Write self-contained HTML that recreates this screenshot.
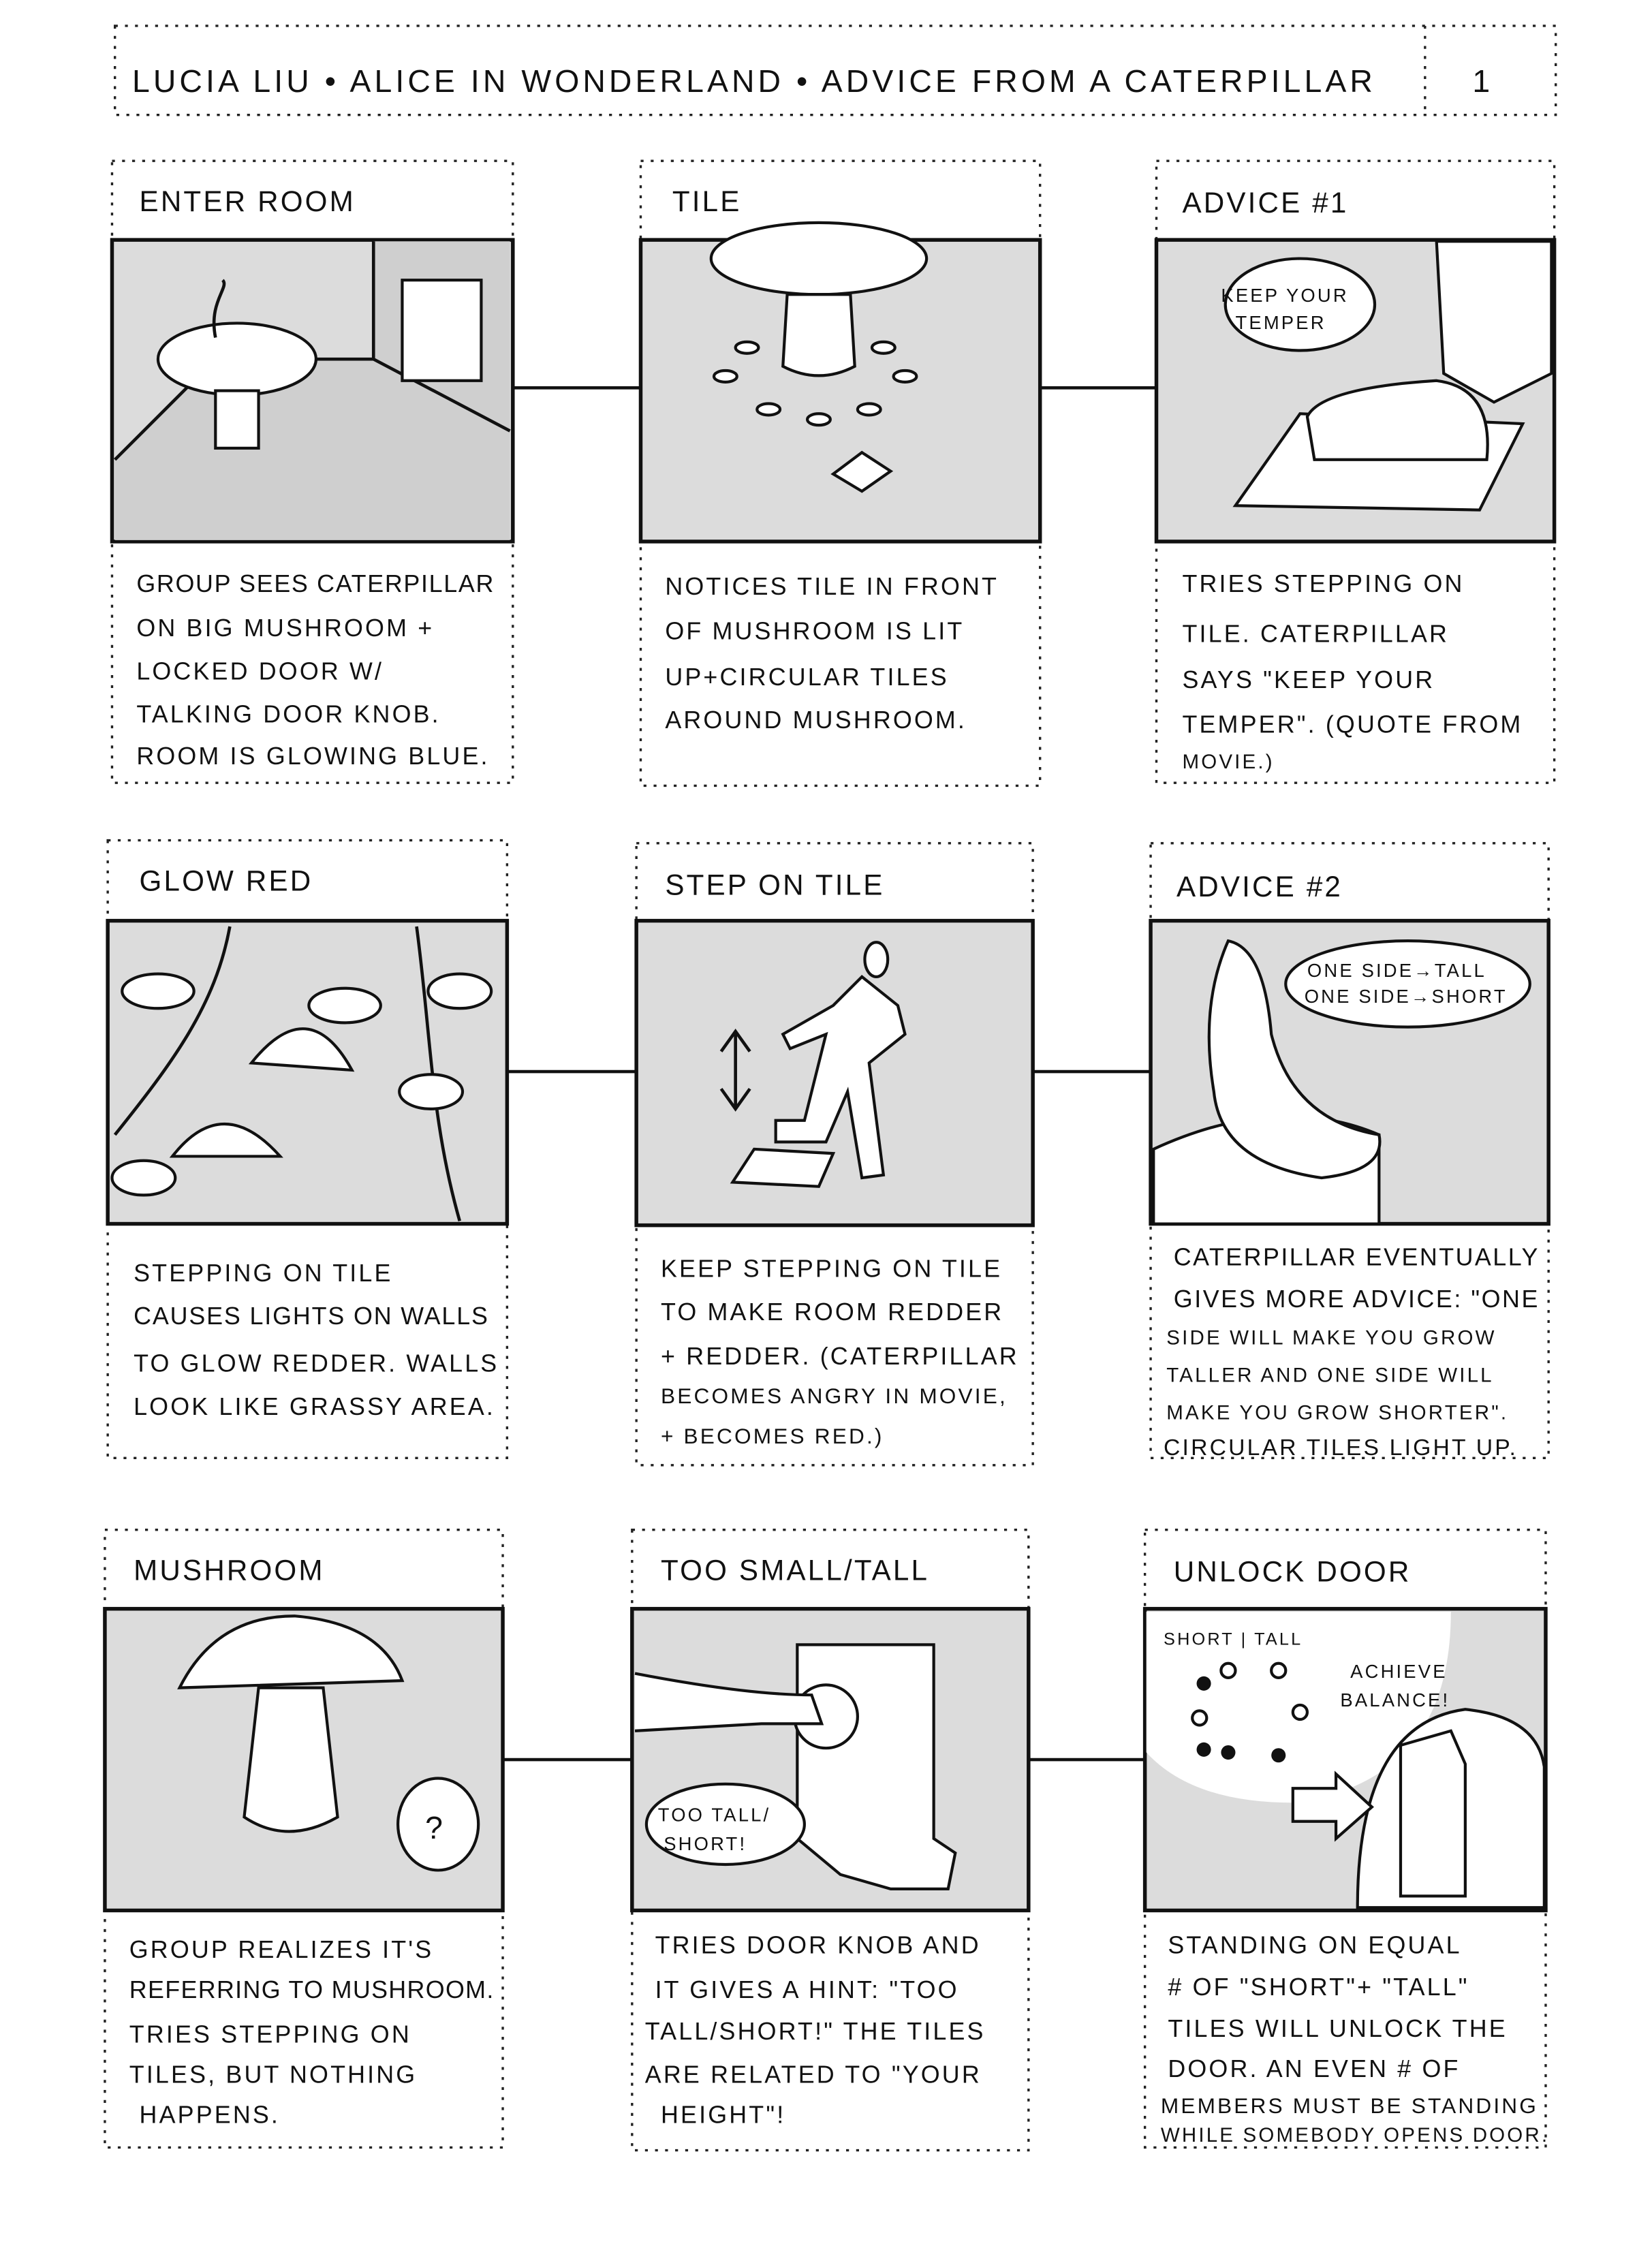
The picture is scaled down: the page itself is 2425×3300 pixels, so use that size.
<!DOCTYPE html>
<html><head><meta charset="utf-8"><style>
html,body{margin:0;padding:0;background:#fff}
svg{display:block}
text{font-family:"Liberation Sans",sans-serif;fill:#111;letter-spacing:1.5px}
.t{font-size:20px}
.d{font-size:17px}
.h{font-size:22px}
.dot{fill:none;stroke:#222;stroke-width:1.6;stroke-dasharray:2 5}
.img{fill:#dcdcdc;stroke:#111;stroke-width:2.6}
.ln{stroke:#111;stroke-width:2.2;fill:none}
.w{fill:#fff;stroke:#111;stroke-width:2}
</style></head><body>
<svg width="2425" height="3300" viewBox="0 0 1150 1565" preserveAspectRatio="none" xmlns="http://www.w3.org/2000/svg">
<rect x="0" y="0" width="1150" height="1565" fill="#fff"/>
<rect class="dot" x="80" y="18" width="1003" height="62"/>
<line class="dot" x1="992" y1="18" x2="992" y2="80"/>
<text class="h" x="92" y="64" textLength="865">LUCIA LIU • ALICE IN WONDERLAND • ADVICE FROM A CATERPILLAR</text>
<text class="h" x="1025" y="64">1</text>

<line class="ln" x1="357" y1="270" x2="446" y2="270"/><line class="ln" x1="724" y1="270" x2="805" y2="270"/>
<line class="ln" x1="353" y1="746" x2="443" y2="746"/><line class="ln" x1="719" y1="746" x2="801" y2="746"/>
<line class="ln" x1="350" y1="1225" x2="440" y2="1225"/><line class="ln" x1="716" y1="1225" x2="797" y2="1225"/>

<rect class="dot" x="78" y="112" width="279" height="433"/>
<text class="t" x="97" y="147">ENTER ROOM</text>
<rect class="img" x="78" y="167" width="279" height="210"/>
<polygon points="80,320 150,250 260,250 260,168 355,168 355,376 80,376" fill="#cfcfcf"/>
<polyline class="ln" points="80,320 150,250 260,250 355,300"/><line class="ln" x1="260" y1="168" x2="260" y2="250"/>
<rect class="w" x="280" y="195" width="55" height="70"/>
<ellipse class="w" cx="165" cy="250" rx="55" ry="25"/><rect class="w" x="150" y="272" width="30" height="40"/>
<path class="ln" d="M150,235 C145,210 160,200 155,195"/>
<text class="d" x="95" y="412" textLength="250">GROUP SEES CATERPILLAR</text>
<text class="d" x="95" y="443">ON BIG MUSHROOM +</text>
<text class="d" x="95" y="473">LOCKED DOOR W/</text>
<text class="d" x="95" y="503">TALKING DOOR KNOB.</text>
<text class="d" x="95" y="532">ROOM IS GLOWING BLUE.</text>

<rect class="dot" x="446" y="112" width="278" height="435"/>
<text class="t" x="468" y="147">TILE</text>
<rect class="img" x="446" y="167" width="278" height="210"/>
<ellipse class="w" cx="570" cy="180" rx="75" ry="25"/><path class="w" d="M548,205 L545,255 Q570,268 595,255 L592,205Z"/>
<g class="w"><ellipse cx="520" cy="242" rx="8" ry="4"/><ellipse cx="505" cy="262" rx="8" ry="4"/><ellipse cx="535" cy="285" rx="8" ry="4"/><ellipse cx="570" cy="292" rx="8" ry="4"/><ellipse cx="605" cy="285" rx="8" ry="4"/><ellipse cx="630" cy="262" rx="8" ry="4"/><ellipse cx="615" cy="242" rx="8" ry="4"/></g>
<polygon class="w" points="580,330 600,315 620,328 600,342"/>
<text class="d" x="463" y="414">NOTICES TILE IN FRONT</text>
<text class="d" x="463" y="445">OF MUSHROOM IS LIT</text>
<text class="d" x="463" y="477">UP+CIRCULAR TILES</text>
<text class="d" x="463" y="507">AROUND MUSHROOM.</text>

<rect class="dot" x="805" y="112" width="277" height="433"/>
<text class="t" x="823" y="148">ADVICE #1</text>
<rect class="img" x="805" y="167" width="277" height="210"/>
<polygon class="w" points="860,352 905,288 1060,295 1030,355"/>
<path class="w" d="M1000,168 L1080,168 L1080,260 L1040,280 L1005,260Z"/>
<path class="w" d="M910,290 Q920,270 1000,265 Q1040,270 1035,320 L915,320Z"/>
<ellipse class="w" cx="905" cy="212" rx="52" ry="32"/>
<text class="d" x="850" y="210" style="font-size:13px">KEEP YOUR</text><text class="d" x="860" y="229" style="font-size:13px">TEMPER</text>
<text class="d" x="823" y="412">TRIES STEPPING ON</text>
<text class="d" x="823" y="447">TILE. CATERPILLAR</text>
<text class="d" x="823" y="479">SAYS "KEEP YOUR</text>
<text class="d" x="823" y="510">TEMPER". (QUOTE FROM</text>
<text class="d" x="823" y="535" style="font-size:14px">MOVIE.)</text>

<rect class="dot" x="75" y="585" width="278" height="430"/>
<text class="t" x="97" y="620">GLOW RED</text>
<rect class="img" x="75" y="641" width="278" height="211"/>
<path class="ln" d="M80,790 C120,740 150,700 160,645 M320,850 C300,780 300,720 290,645"/>
<g class="w"><ellipse cx="110" cy="690" rx="25" ry="12"/><ellipse cx="240" cy="700" rx="25" ry="12"/><ellipse cx="320" cy="690" rx="22" ry="12"/><ellipse cx="300" cy="760" rx="22" ry="12"/><ellipse cx="100" cy="820" rx="22" ry="12"/></g>
<path class="w" d="M175,740 Q215,690 245,745Z"/><path class="w" d="M120,805 Q155,760 195,805Z"/>
<text class="d" x="93" y="892">STEPPING ON TILE</text>
<text class="d" x="93" y="922" textLength="248">CAUSES LIGHTS ON WALLS</text>
<text class="d" x="93" y="955">TO GLOW REDDER. WALLS</text>
<text class="d" x="93" y="985">LOOK LIKE GRASSY AREA.</text>

<rect class="dot" x="443" y="587" width="276" height="433"/>
<text class="t" x="463" y="623">STEP ON TILE</text>
<rect class="img" x="443" y="641" width="276" height="212"/>
<path class="w" d="M600,680 L580,700 L545,720 L550,730 L575,720 L560,780 L540,780 L540,795 L575,795 L590,760 L600,820 L615,818 L605,740 L630,720 L625,700Z"/>
<ellipse class="w" cx="610" cy="668" rx="8" ry="12"/>
<polygon class="w" points="510,823 525,800 580,803 570,826"/>
<path class="ln" d="M512,720 L512,770 M502,732 L512,718 L522,732 M502,758 L512,772 L522,758"/>
<text class="d" x="460" y="889">KEEP STEPPING ON TILE</text>
<text class="d" x="460" y="919">TO MAKE ROOM REDDER</text>
<text class="d" x="460" y="950">+ REDDER. (CATERPILLAR</text>
<text class="d" x="460" y="977" style="font-size:15px">BECOMES ANGRY IN MOVIE,</text>
<text class="d" x="460" y="1005" style="font-size:15px">+ BECOMES RED.)</text>

<rect class="dot" x="801" y="587" width="277" height="428"/>
<text class="t" x="819" y="624">ADVICE #2</text>
<rect class="img" x="801" y="641" width="277" height="211"/>
<path class="w" d="M803,800 Q890,760 960,790 L960,852 L803,852Z"/>
<path class="w" d="M855,655 Q880,660 885,720 Q900,780 960,790 Q965,815 920,820 Q850,810 845,760 Q835,700 855,655Z"/>
<ellipse class="w" cx="980" cy="685" rx="85" ry="30"/>
<text class="d" x="910" y="680" style="font-size:13px">ONE SIDE→TALL</text><text class="d" x="908" y="698" style="font-size:13px">ONE SIDE→SHORT</text>
<text class="d" x="817" y="881" textLength="255">CATERPILLAR EVENTUALLY</text>
<text class="d" x="817" y="910" textLength="255">GIVES MORE ADVICE: "ONE</text>
<text class="d" x="812" y="936" style="font-size:14px">SIDE WILL MAKE YOU GROW</text>
<text class="d" x="812" y="962" style="font-size:14px">TALLER AND ONE SIDE WILL</text>
<text class="d" x="812" y="988" style="font-size:14px">MAKE YOU GROW SHORTER".</text>
<text class="d" x="810" y="1013" style="font-size:16px">CIRCULAR TILES LIGHT UP.</text>

<rect class="dot" x="73" y="1065" width="277" height="430"/>
<text class="t" x="93" y="1100">MUSHROOM</text>
<rect class="img" x="73" y="1120" width="277" height="210"/>
<path class="w" d="M125,1175 Q150,1125 205,1125 Q265,1130 280,1170Z"/>
<path class="w" d="M180,1175 L170,1265 Q200,1285 235,1265 L225,1175Z"/>
<ellipse class="w" cx="305" cy="1270" rx="28" ry="32"/>
<text class="h" x="296" y="1280">?</text>
<text class="d" x="90" y="1363">GROUP REALIZES IT'S</text>
<text class="d" x="90" y="1391" textLength="255">REFERRING TO MUSHROOM.</text>
<text class="d" x="90" y="1422">TRIES STEPPING ON</text>
<text class="d" x="90" y="1450">TILES, BUT NOTHING</text>
<text class="d" x="97" y="1478">HAPPENS.</text>

<rect class="dot" x="440" y="1065" width="276" height="432"/>
<text class="t" x="460" y="1100">TOO SMALL/TALL</text>
<rect class="img" x="440" y="1120" width="276" height="210"/>
<path class="w" d="M555,1145 L650,1145 L650,1280 L665,1290 L660,1315 L620,1315 L585,1305 L555,1280Z"/>
<circle class="w" cx="575" cy="1195" r="22"/>
<path class="w" d="M442,1165 Q520,1180 565,1180 L572,1200 L530,1200 L442,1205"/>
<ellipse class="w" cx="505" cy="1270" rx="55" ry="28"/>
<text class="d" x="458" y="1268" style="font-size:13px">TOO TALL/</text><text class="d" x="462" y="1288" style="font-size:13px">SHORT!</text>
<text class="d" x="456" y="1360">TRIES DOOR KNOB AND</text>
<text class="d" x="456" y="1391">IT GIVES A HINT: "TOO</text>
<text class="d" x="449" y="1420">TALL/SHORT!" THE TILES</text>
<text class="d" x="449" y="1450">ARE RELATED TO "YOUR</text>
<text class="d" x="460" y="1478">HEIGHT"!</text>

<rect class="dot" x="797" y="1065" width="279" height="430"/>
<text class="t" x="817" y="1101">UNLOCK DOOR</text>
<rect class="img" x="797" y="1120" width="279" height="210"/>
<path d="M798,1122 L1010,1122 Q1010,1240 900,1255 Q830,1255 798,1220Z" fill="#fff"/>
<path class="w" d="M945,1328 Q945,1200 1020,1190 Q1070,1195 1075,1230 L1075,1328Z"/>
<path class="w" d="M975,1215 L1010,1205 L1020,1228 L1020,1320 L975,1320Z"/>
<text class="d" x="810" y="1145" style="font-size:12px">SHORT | TALL</text>
<text class="d" x="940" y="1168" style="font-size:13px">ACHIEVE</text><text class="d" x="933" y="1188" style="font-size:13px">BALANCE!</text>
<g fill="#111"><circle cx="838" cy="1172" r="5"/><circle cx="838" cy="1218" r="5"/><circle cx="855" cy="1220" r="5"/><circle cx="890" cy="1222" r="5"/></g>
<g class="w"><circle cx="855" cy="1163" r="5"/><circle cx="890" cy="1163" r="5"/><circle cx="905" cy="1192" r="5"/><circle cx="835" cy="1196" r="5"/></g>
<path class="w" d="M900,1245 L930,1245 L930,1235 L955,1258 L930,1280 L930,1268 L900,1268Z"/>
<text class="d" x="813" y="1360">STANDING ON EQUAL</text>
<text class="d" x="813" y="1389"># OF "SHORT"+ "TALL"</text>
<text class="d" x="813" y="1418">TILES WILL UNLOCK THE</text>
<text class="d" x="813" y="1446">DOOR. AN EVEN # OF</text>
<text class="d" x="808" y="1471" style="font-size:15px">MEMBERS MUST BE STANDING</text>
<text class="d" x="808" y="1491" style="font-size:14px">WHILE SOMEBODY OPENS DOOR.</text>
</svg>
</body></html>
